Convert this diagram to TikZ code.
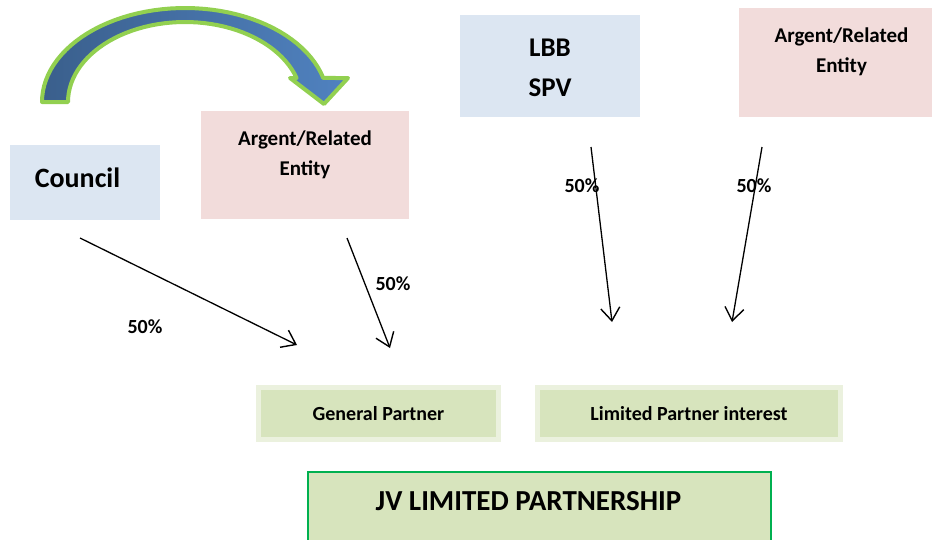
\documentclass[tikz,border=0pt]{standalone}
\usepackage{fontspec}
\setmainfont{Carlito}
\usepackage{tikz}
\usetikzlibrary{arrows.meta,positioning,calc}
\definecolor{boxblue}{RGB}{220,230,242}
\definecolor{boxpink}{RGB}{242,220,219}
\definecolor{boxgreen}{RGB}{215,228,189}
\definecolor{framegreen}{RGB}{235,241,222}
\definecolor{jvgreen}{RGB}{0,176,80}
\definecolor{arcgreen}{RGB}{146,208,80}
\definecolor{arcdark}{RGB}{58,95,140}
\definecolor{arcblue}{RGB}{80,130,192}
\tikzset{
  bluebox/.style={fill=boxblue, draw=none, inner sep=0pt},
  pinkbox/.style={fill=boxpink, draw=none, inner sep=0pt},
  partnerbox/.style={fill=boxgreen, draw=framegreen, line width=5pt,
    minimum height=52pt, inner sep=0pt, align=center,
    font=\bfseries\fontsize{20}{24}\selectfont},
  jvbox/.style={fill=boxgreen, draw=jvgreen, line width=1.5pt, inner sep=0pt},
  boxtext/.style={align=center, inner sep=0pt, font=\bfseries\fontsize{21}{30}\selectfont},
  bigtext/.style={align=center, inner sep=0pt, font=\bfseries\fontsize{27}{40}\selectfont},
  pct/.style={inner sep=0pt, font=\bfseries\fontsize{20}{24}\selectfont},
  flow/.style={-{Straight Barb[length=13pt,width=19pt,line width=1.4pt]}, line width=1.3pt},
  curvedarrow/.style={draw=arcgreen, line width=4pt, line join=round,
    left color=arcdark, right color=arcblue}
}

\begin{document}
\begin{tikzpicture}[x=1pt,y=-1pt]
\useasboundingbox (0,0) rectangle (933,539);

% boxes
\node[bluebox, minimum width=150pt, minimum height=75pt] (council) at (85,182.5) {};
\node[bigtext, font=\bfseries\fontsize{28}{34}\selectfont] at (77.5,178) {Council};

\node[pinkbox, minimum width=208pt, minimum height=108pt] (argentL) at (305,165) {};
\node[boxtext] at ([yshift=10pt]argentL.center) {Argent/Related\\Entity};

\node[bluebox, minimum width=180pt, minimum height=102pt] (lbb) at (550,66) {};
\node[bigtext] at ([yshift=-2pt]lbb.center) {LBB\\SPV};

\node[pinkbox, minimum width=193pt, minimum height=109pt] (argentR) at (835.5,62.5) {};
\node[boxtext] at ([xshift=6pt,yshift=10.5pt]argentR.center) {Argent/Related\\Entity};

\node[partnerbox, minimum width=240pt] (general) at (378.5,413.5) {General Partner};
\node[partnerbox, minimum width=303pt] (limited) at (689,413.5) {Limited Partner interest};

\node[jvbox, minimum width=463pt, minimum height=90pt] (jv) at (539.5,517) {};
\node[bigtext, font=\bfseries\fontsize{29}{34}\selectfont] at (528.5,501) {JV LIMITED PARTNERSHIP};

% arrow ends
\coordinate (councilout) at (80,238);
\coordinate (argentLout) at (347,238);
\coordinate (lbbout) at (591,147);
\coordinate (argentRout) at (762,147);
\coordinate (generalin1) at (297,345);
\coordinate (generalin2) at (390,348);
\coordinate (limitedin1) at (612,322);
\coordinate (limitedin2) at (732,322);

\draw[flow] (councilout) -- (generalin1);
\draw[flow] (argentLout) -- (generalin2);
\draw[flow] (lbbout) -- (limitedin1);
\draw[flow] (argentRout) -- (limitedin2);

\node[pct] at (145,327) {50\%};
\node[pct] at (393,284) {50\%};
\node[pct] at (582,186) {50\%};
\node[pct] at (754,186) {50\%};

% curved arrow from council to argent
\path[curvedarrow]
  plot[domain=180:14.8, samples=50] ({185+143*cos(\x)},{102-94*sin(\x)})
  -- (348,78) -- (324,104) -- (290,78)
  -- plot[domain=17.46:180, samples=50] ({185+117*cos(\x)},{102-80*sin(\x)})
  -- cycle;
\end{tikzpicture}
\end{document}
